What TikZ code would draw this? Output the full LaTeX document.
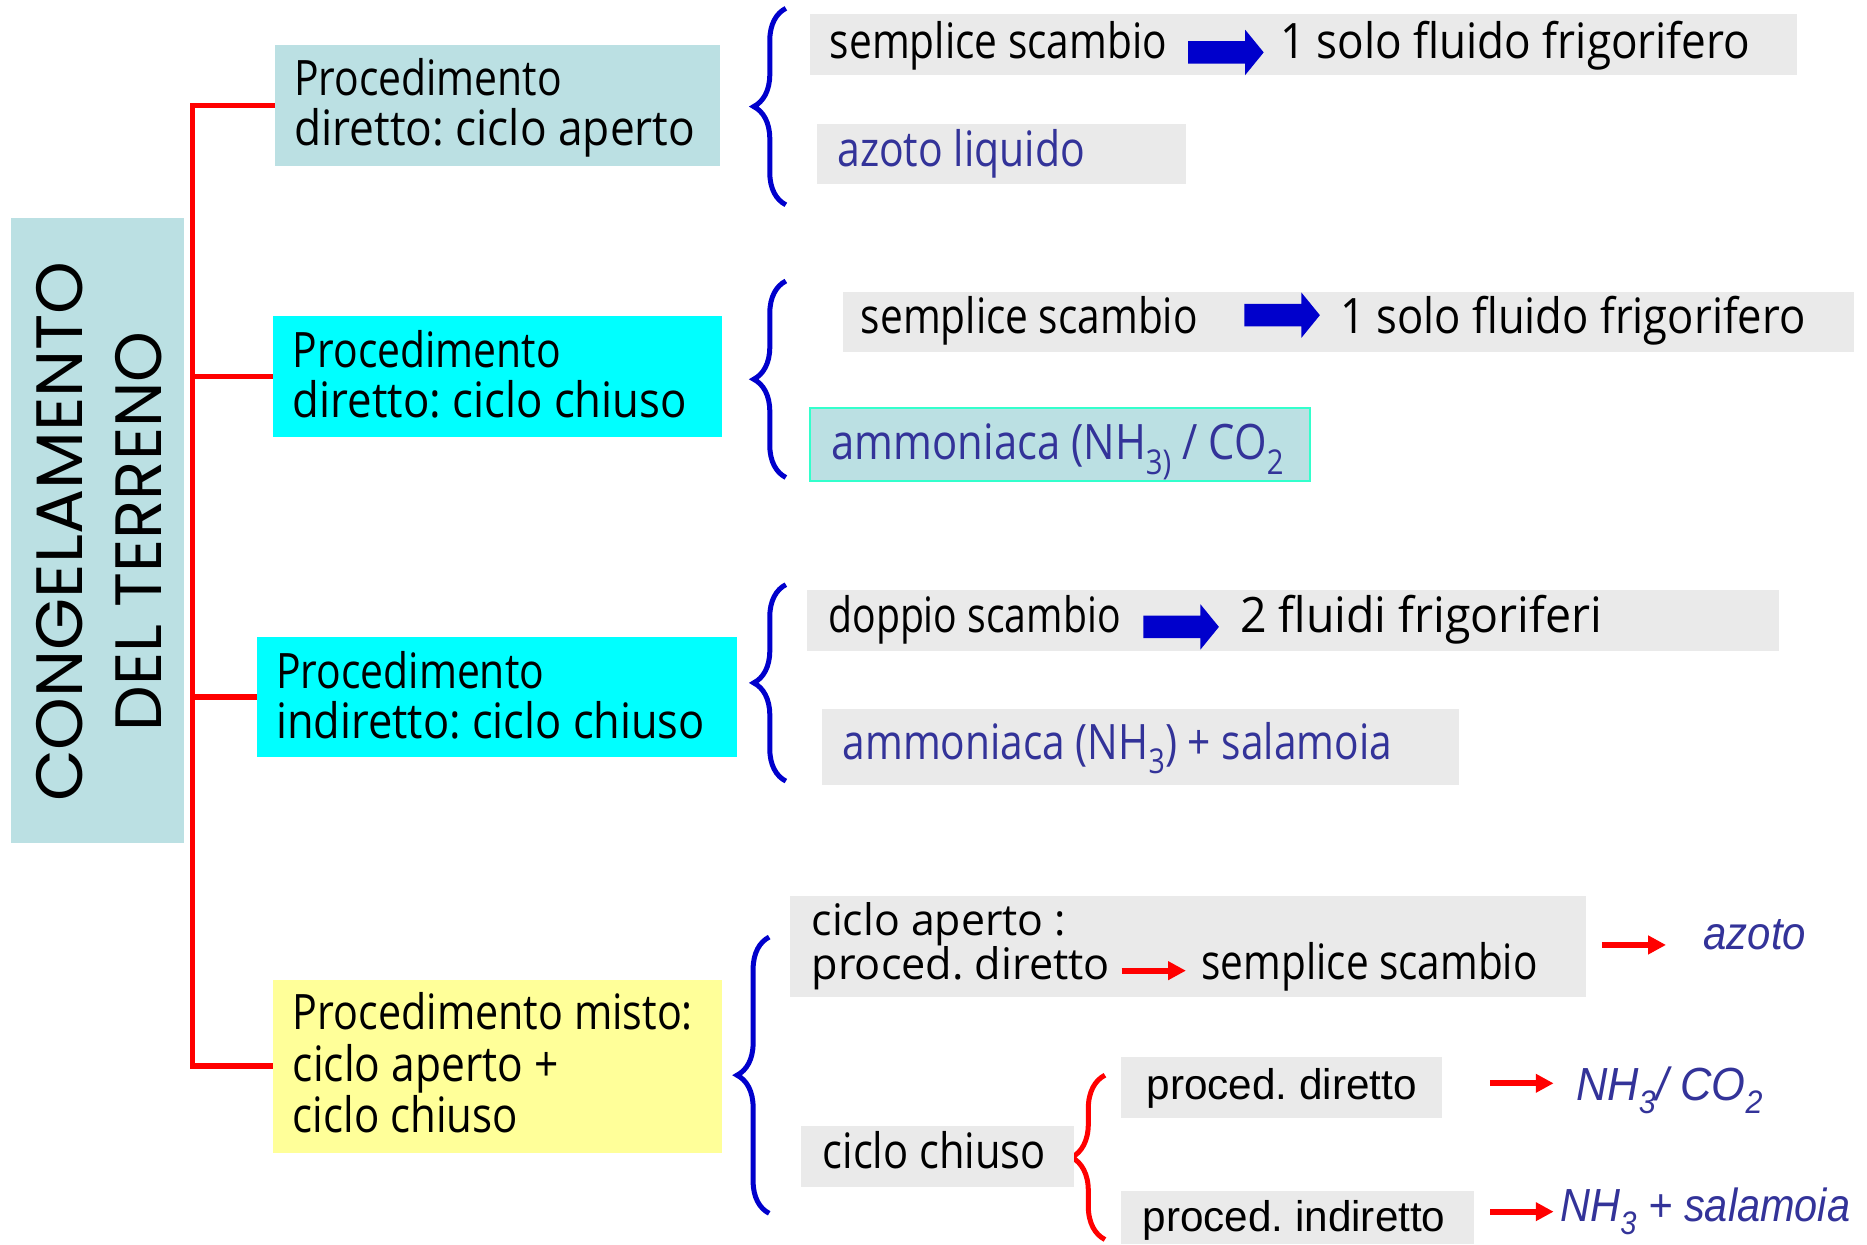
\documentclass[tikz,border=0pt]{standalone}
\usepackage{fontspec}
\setmainfont{Open Sans}
\newfontfamily\arialf{Liberation Sans}
\newfontfamily\gothf{Poppins}
\usetikzlibrary{arrows.meta,decorations.pathreplacing}
\definecolor{boxblue}{HTML}{BBE0E3}
\definecolor{boxcyan}{HTML}{00FFFF}
\definecolor{boxyellow}{HTML}{FFFF99}
\definecolor{boxgray}{HTML}{EAEAEA}
\definecolor{txtblue}{HTML}{333399}
\definecolor{brblue}{HTML}{0000CC}
\definecolor{turq}{HTML}{33FFCC}
\newcommand\fw[2]{\resizebox{#1pt}{\height}{#2}}
\frenchspacing
\begin{document}
\begin{tikzpicture}[x=1pt,y=-1pt,
  every node/.style={inner sep=0pt,outer sep=0pt},
  panel/.style={anchor=north west,fill=#1},
  txt/.style={anchor=base west,font=\fontsize{41}{43}\selectfont},
  stxt/.style={anchor=base west,font=\fontsize{36.5}{38}\selectfont},
  btxt/.style={txt,text=txtblue},
  atxt/.style={anchor=base west,font=\arialf\fontsize{36}{38}\selectfont},
  itxt/.style={anchor=base west,text=txtblue,font=\arialf\itshape\fontsize{39}{41}\selectfont},
  gtxt/.style={anchor=base west,rotate=90,font=\gothf\fontsize{55}{57}\selectfont},
  redline/.style={draw=red,line width=4.8pt},
  redarr/.style={draw=red,line width=5pt,-{Triangle[length=15pt,width=15pt]}},
  bbrace/.style={draw=brblue,line width=4.2pt,decorate,decoration={brace,amplitude=27pt}},
  rbrace/.style={draw=red,line width=4.2pt,decorate,decoration={brace,amplitude=28pt}},
  blockarr/.pic={\fill[brblue] (0,-9.5) -- (48,-9.5) -- (48,-19) -- (63.5,0) -- (48,19) -- (48,9.5) -- (0,9.5) -- cycle;}
]
\useasboundingbox (0,0) rectangle (1568,1045);
\fill[white] (0,0) rectangle (1568,1045);

% main vertical title
\node[panel=boxblue,minimum width=145.3pt,minimum height=524.6pt] (cong) at (9,183.4) {};
\node[gtxt] (t1) at (69.4,673.5) {\fw{454}{CONGELAMENTO}};
\node[gtxt] (t2) at (135.8,614) {\fw{335.5}{DEL TERRENO}};

% four procedure boxes
\node[panel=boxblue,minimum width=374pt,minimum height=101pt] (A) at (231,38) {};
\node[txt] (a1) at (247,80.5) {\fw{225}{Procedimento}};
\node[txt] (a2) at (247,122) {\fw{337}{diretto: ciclo aperto}};

\node[panel=boxcyan,minimum width=377pt,minimum height=101.6pt] (B) at (229,265.4) {};
\node[txt] (b1) at (246,308.5) {\fw{225}{Procedimento}};
\node[txt] (b2) at (246,350.5) {\fw{331}{diretto: ciclo chiuso}};

\node[panel=boxcyan,minimum width=403pt,minimum height=101pt] (C) at (216,535) {};
\node[txt] (c1) at (232,578) {\fw{225}{Procedimento}};
\node[txt] (c2) at (232,620) {\fw{360}{indiretto: ciclo chiuso}};

\node[panel=boxyellow,minimum width=377pt,minimum height=145pt] (D) at (229,823) {};
\node[txt] (d1) at (246,865) {\fw{336}{Procedimento misto:}};
\node[txt] (d2) at (246,908) {\fw{223}{ciclo aperto +}};
\node[txt] (d3) at (246,951) {\fw{189}{ciclo chiuso}};

% red tree
\coordinate (trunk) at (161.7,0);
\draw[redline] (A.west) -- (A.west -| trunk) -- (D.west -| trunk) -- (D.west);
\draw[redline] (B.west -| trunk) -- (B.west);
\draw[redline] (C.west -| trunk) -- (C.west);

% braces
\coordinate (br1s) at (660,172); \coordinate (br1e) at (660,7);
\coordinate (br2s) at (660,401); \coordinate (br2e) at (660,236);
\coordinate (br3s) at (660,656); \coordinate (br3e) at (660,491);
\coordinate (br4s) at (646,1019); \coordinate (br4e) at (646,787);
\coordinate (br5s) at (928,1041); \coordinate (br5e) at (928,903);
\draw[bbrace] (br1s) -- (br1e);
\draw[bbrace] (br2s) -- (br2e);
\draw[bbrace] (br3s) -- (br3e);
\draw[bbrace] (br4s) -- (br4e);
\draw[rbrace] (br5s) -- (br5e);

% group 1
\node[panel=boxgray,minimum width=829pt,minimum height=51pt] (g1) at (680.3,11.8) {};
\node[txt] (g1a) at (697,49) {\fw{283}{semplice scambio}};
\pic (ba1) at (997.8,44) {blockarr};
\node[txt] (g1b) at (1075,49) {\fw{395}{1 solo fluido frigorifero}};
\node[panel=boxgray,minimum width=309.9pt,minimum height=50.7pt] (g2) at (685.9,104.1) {};
\node[btxt] (g2a) at (703.2,140) {\fw{208}{azoto liquido}};

% group 2
\node[panel=boxgray,minimum width=849.4pt,minimum height=50.5pt] (g3) at (707.6,245.5) {};
\node[txt] (g3a) at (723,280) {\fw{283}{semplice scambio}};
\pic (ba2) at (1045,264.7) {blockarr};
\node[txt] (g3b) at (1125.4,280) {\fw{391}{1 solo fluido frigorifero}};
\node[panel=boxblue,draw=turq,line width=1.5pt,minimum width=419.9pt,minimum height=61.3pt] (g4) at (680.3,342.4) {};
\node[btxt] (g4a) at (698.5,386.3) {\fw{380}{ammoniaca (NH\textsubscript{3)} / CO\textsubscript{2}}};

% group 3
\node[panel=boxgray,minimum width=816.5pt,minimum height=51pt] (g5) at (677.5,495.5) {};
\node[txt] (g5a) at (695.7,531.3) {\fw{245.5}{doppio scambio}};
\pic (ba3) at (960.2,526.5) {blockarr};
\node[txt] (g5b) at (1041.4,531.3) {\fw{304}{2 fluidi frigoriferi}};
\node[panel=boxgray,minimum width=534.7pt,minimum height=63.8pt] (g6) at (690.3,595.5) {};
\node[btxt] (g6a) at (707.7,637.7) {\fw{461.3}{ammoniaca (NH\textsubscript{3}) + salamoia}};

% group 4
\node[panel=boxgray,minimum width=668.5pt,minimum height=85.1pt] (g7) at (663.5,752.5) {};
\node[stxt] (g7a) at (681.7,785.5) {\fw{213.6}{ciclo aperto :}};
\node[stxt] (g7b) at (681.7,823) {\fw{250.5}{proced. diretto}};
\node[txt] (g7c) at (1009.2,822.5) {\fw{282.2}{semplice scambio}};
\coordinate (r1s) at (942,815.2); \coordinate (r1e) at (996,815.2);
\draw[redarr] (r1s) -- (r1e);
\coordinate (r2s) at (1345.4,793.6); \coordinate (r2e) at (1399.2,793.6);
\draw[redarr] (r2s) -- (r2e);
\node[itxt] (az) at (1430.8,797.3) {\fw{86.2}{azoto}};

\node[panel=boxgray,minimum width=229.6pt,minimum height=50.9pt] (g9) at (672.4,945.7) {};
\node[txt] (g9a) at (690.9,981.2) {\fw{187.6}{ciclo chiuso}};

\node[panel=boxgray,minimum width=269.8pt,minimum height=51.3pt] (g8) at (941.2,887.4) {};
\node[atxt] (g8a) at (963,923.8) {\fw{227}{proced. diretto}};
\coordinate (r3s) at (1251.7,909.8); \coordinate (r3e) at (1304.8,909.8);
\draw[redarr] (r3s) -- (r3e);
\node[itxt] (nh1) at (1323.6,924.4) {\fw{157.1}{NH\textsubscript{3}/ CO\textsubscript{2}}};

\node[panel=boxgray,minimum width=296.4pt,minimum height=44.7pt] (g10) at (941.2,1000.3) {};
\node[atxt] (g10a) at (959.7,1034.4) {\fw{254.3}{proced. indiretto}};
\coordinate (r4s) at (1251.7,1017.6); \coordinate (r4e) at (1304.8,1017.6);
\draw[redarr] (r4s) -- (r4e);
\node[itxt] (nh2) at (1310.4,1026) {\fw{243.6}{NH\textsubscript{3} + salamoia}};
\end{tikzpicture}
\end{document}
